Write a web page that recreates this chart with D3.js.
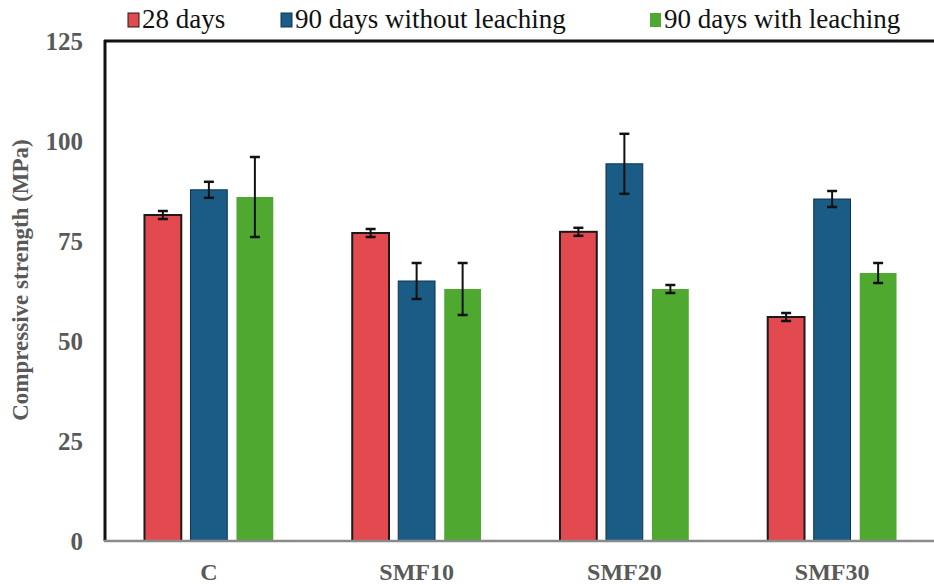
<!DOCTYPE html>
<html>
<head>
<meta charset="utf-8">
<script src="https://cdn.jsdelivr.net/npm/d3@7"></script>
<style>
  body { margin: 0; background: #fff; }
</style>
</head>
<body>
<div id="chart"></div>
<script>
// data
var categories = ["C", "SMF10", "SMF20", "SMF30"];
var seriesNames = ["28 days", "90 days without leaching", "90 days with leaching"];
var days28 = [81.5, 77, 77.3, 56];
var days90 = [87.8, 65, 94.3, 85.5];
var days90leach = [86, 63, 63, 67];
var err28 = [1, 1, 1, 1];
var err90 = [2, 4.5, 7.5, 2];
var err90leach = [10, 6.5, 1, 2.5];
var yTicks = [0, 25, 50, 75, 100, 125];

var colors = ["#E24A4F", "#1A5C86", "#4FA82F"];
var strokes = ["#1a1a1a", "#0e3450", "none"];
var serif = "Liberation Serif, DejaVu Serif, serif";

var width = 934, height = 584;
var svg = d3.select("#chart").append("svg")
    .attr("width", width)
    .attr("height", height);

var y = d3.scaleLinear().domain([0, 125]).range([541, 41]);
var x0 = d3.scaleBand().domain(categories).range([105, 936]);
var x1 = d3.scaleBand().domain(seriesNames).range([-69, 69])
    .paddingInner(0.2).paddingOuter(0.1);

var values = [days28, days90, days90leach];
var errs = [err28, err90, err90leach];

// bars
seriesNames.forEach(function (s, si) {
    var g = svg.append("g");
    var rows = categories.map(function (c, i) {
        return { cat: c, v: values[si][i], e: errs[si][i] };
    });
    g.selectAll("rect")
        .data(rows)
        .enter().append("rect")
        .attr("x", function (d) { return x0(d.cat) + x0.bandwidth() / 2 + x1(s); })
        .attr("y", function (d) { return y(d.v); })
        .attr("width", x1.bandwidth())
        .attr("height", function (d) { return y(0) - y(d.v); })
        .attr("fill", colors[si])
        .attr("stroke", strokes[si])
        .attr("stroke-width", si == 0 ? 2 : 1);

    // error bars
    var eb = g.selectAll(".err")
        .data(rows)
        .enter().append("g")
        .attr("transform", function (d) {
            return "translate(" + (x0(d.cat) + x0.bandwidth() / 2 + x1(s) + x1.bandwidth() / 2) + ",0)";
        });
    eb.append("line")
        .attr("y1", function (d) { return y(d.v + d.e); })
        .attr("y2", function (d) { return y(d.v - d.e); })
        .attr("stroke", "#111").attr("stroke-width", 2);
    eb.append("line")
        .attr("x1", -5).attr("x2", 5)
        .attr("y1", function (d) { return y(d.v + d.e); })
        .attr("y2", function (d) { return y(d.v + d.e); })
        .attr("stroke", "#111").attr("stroke-width", 2.5);
    eb.append("line")
        .attr("x1", -5).attr("x2", 5)
        .attr("y1", function (d) { return y(d.v - d.e); })
        .attr("y2", function (d) { return y(d.v - d.e); })
        .attr("stroke", "#111").attr("stroke-width", 2.5);
});

// frame: top and left black, bottom grey
svg.append("line")
    .attr("x1", 104).attr("x2", 934).attr("y1", 41).attr("y2", 41)
    .attr("stroke", "#111").attr("stroke-width", 3);
svg.append("line")
    .attr("x1", 105).attr("x2", 105).attr("y1", 40).attr("y2", 541)
    .attr("stroke", "#111").attr("stroke-width", 3);
svg.append("line")
    .attr("x1", 104).attr("x2", 934).attr("y1", 541).attr("y2", 541)
    .attr("stroke", "#8a8a8a").attr("stroke-width", 2.5);

// y axis labels
var yAxis = d3.axisLeft(y).tickValues(yTicks).tickSize(0).tickPadding(22);
var gy = svg.append("g")
    .attr("transform", "translate(105,0)")
    .call(yAxis);
gy.select(".domain").remove();
gy.attr("font-family", serif);
gy.selectAll("text")
    .attr("font-size", 25)
    .attr("font-weight", "bold")
    .attr("fill", "#595959");

// x axis labels
var xAxis = d3.axisBottom(x0).tickSize(0).tickPadding(22);
var gx = svg.append("g")
    .attr("transform", "translate(0,541)")
    .call(xAxis);
gx.select(".domain").remove();
gx.attr("font-family", serif);
gx.selectAll("text")
    .attr("font-size", 24)
    .attr("font-weight", "bold")
    .attr("fill", "#595959");

// axis title
svg.append("text")
    .attr("transform", "translate(28,280) rotate(-90)")
    .attr("text-anchor", "middle")
    .attr("font-family", serif)
    .attr("font-size", 23)
    .attr("font-weight", "bold")
    .attr("fill", "#595959")
    .text("Compressive strength (MPa)");

// legend
var legendX = [128, 281, 650];
var leg = svg.selectAll(".leg")
    .data(seriesNames)
    .enter().append("g")
    .attr("transform", function (d, i) { return "translate(" + legendX[i] + ",0)"; });
leg.append("rect")
    .attr("x", 0).attr("y", 13).attr("width", 11).attr("height", 14)
    .attr("fill", function (d, i) { return colors[i]; })
    .attr("stroke", function (d, i) { return strokes[i]; })
    .attr("stroke-width", 1);
leg.append("text")
    .attr("x", 14).attr("y", 28)
    .attr("font-family", serif)
    .attr("font-size", 27)
    .attr("fill", "#111")
    .text(function (d) { return d; });
</script>
</body>
</html>
